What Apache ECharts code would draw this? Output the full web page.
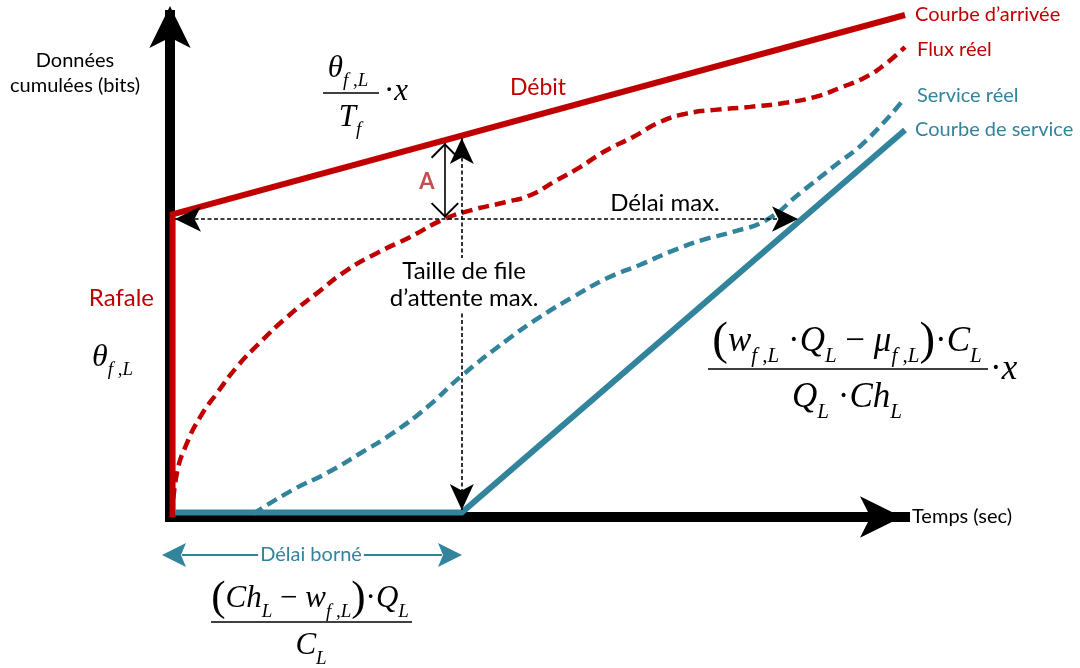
<!DOCTYPE html>
<html><head><meta charset="utf-8">
<script src="https://cdn.jsdelivr.net/npm/echarts@6/dist/echarts.min.js"></script>
<style>html,body{margin:0;padding:0;background:#fff}#c{width:1080px;height:668px}</style>
</head><body><div id="c"></div>
<script>
// ---- data (time units on x, cumulated bits on y) ----
const xRange = [0, 100];
const yRange = [0, 100];
const arrivalCurve = [[0.35, 0], [0.35, 60.3], [100, 100]];
const realFlow = [[0.3,0.2],[0.95,8.8],[2.3,14.7],[4.1,19.9],[6.4,24.7],[9.1,29.9],[12.2,34.7],[15.9,39.8],[20.0,44.6],[24.1,49.2],[28.2,52.6],[32.7,55.8],[37.1,59.2],[41.2,61.2],[45.6,62.7],[49.0,64.1],[52.4,66.9],[55.8,69.7],[59.2,72.9],[63.0,75.7],[66.7,78.7],[70.1,80.3],[74.1,81.1],[78.9,81.7],[83.7,82.5],[87.8,83.7],[91.2,85.5],[94.6,87.6],[97.3,90.2],[100,93.6]];
const realService = [[11.3,0.6],[16.7,5.4],[21.4,8.8],[25.9,12.7],[30.3,16.7],[35.0,21.9],[39.5,27.9],[45.9,35.3],[50.3,39.8],[54.8,43.8],[59.5,47.6],[63.9,50.2],[68.0,52.8],[72.5,55.2],[76.6,56.8],[81.2,59.2],[85.7,64.5],[90.2,69.7],[94.8,75.1],[100,83.5]];
const serviceCurve = [[0.7, 0.9], [39.7, 0.9], [100, 77.1]];
const maxDelayLine = [[0.68, 59.36], [85.44, 59.36]];
const maxQueueLine = [[39.7, 75.5], [39.7, 1.4]];
const gapALine = [[37.4, 74.5], [37.4, 59.6]];
const curveNames = ["Courbe d’arrivée", "Flux réel", "Service réel", "Courbe de service"];

const RED = '#C00000', TEAL = '#31849B';
const M = "'Liberation Serif','Times New Roman',serif";
const S = "Lato,'Open Sans',sans-serif";

const chart = echarts.init(document.getElementById('c'), null, {renderer: 'canvas'});

function arrowPoint(sym, w, h, off) {
  return {symbol: sym, symbolSize: [w, h], symbolOffset: [0, off]};
}
const CHEVRON = 'path://M0,0 L14,14 L12.6,15.4 L0,2.8 L-12.6,15.4 L-14,14 Z';
function annot(name, pts, s0, s1, ls) {
  return {
    name, type: 'line', data: [], silent: true, z: 6,
    markLine: {
      silent: true, animation: false, label: {show: false}, emphasis: {disabled: true},
      lineStyle: ls,
      data: [[Object.assign({}, s0, {coord: pts[0]}), Object.assign({}, s1, {coord: pts[1]})]]
    }
  };
}

function mtext(x, y, text, rich, align) {
  return {type: 'text', x, y, z: 100, style: {text, align: align || 'center', verticalAlign: 'middle',
    textAlign: align || 'center', textVerticalAlign: 'middle', fill: '#000', rich}};
}
function stext(x, y, text, size, color, align, extra) {
  return {type: 'text', x, y, z: 100, style: Object.assign({text, fontFamily: S, fontSize: size, fill: color,
    align: align, verticalAlign: 'middle', textAlign: align, textVerticalAlign: 'middle'}, extra || {})};
}
function bar(x1, x2, y) {
  return {type: 'line', z: 100, shape: {x1, y1: y, x2, y2: y}, style: {stroke: '#000', lineWidth: 1.3}};
}
function richSet(main, sub, paren, shift) {
  return {
    v: {fontFamily: M, fontStyle: 'italic', fontSize: main, fill: '#000'},
    s: {fontFamily: M, fontStyle: 'italic', fontSize: sub, fill: '#000', padding: [shift, 0, 0, 0]},
    o: {fontFamily: M, fontSize: main, fill: '#000'},
    p: {fontFamily: M, fontSize: paren, fill: '#000'}
  };
}
const rTop = richSet(31, 19, 42, 24);
const rLeft = richSet(32, 19, 44, 24);
const rRight = richSet(35, 21, 47, 28);
const rBot = richSet(31, 19, 43, 25);

const graphics = [
  stext(75, 61, 'Données', 20, '#000', 'center'),
  stext(75, 86, 'cumulées (bits)', 20, '#000', 'center'),
  stext(154, 298, 'Rafale', 24, RED, 'right'),
  mtext(92, 358, '{v|θ}{s|f ,L}', rLeft, 'left'),
  // top fraction
  mtext(348, 69, '{v|θ}{s|f ,L}', rTop),
  bar(323, 379, 93),
  mtext(350, 118, '{v|T}{s|f}', rTop),
  mtext(384, 92, '{o|·}{v|x}', rTop, 'left'),
  stext(538, 88, 'Débit', 23, RED, 'center'),
  stext(915, 15, curveNames[0], 20, RED, 'left'),
  stext(917, 50, curveNames[1], 20, RED, 'left'),
  stext(917, 96, curveNames[2], 20, TEAL, 'left'),
  stext(915, 130, curveNames[3], 20, TEAL, 'left'),
  stext(427, 182, 'A', 22, '#C0504D', 'center', {fontWeight: 'bold'}),
  stext(665, 203, 'Délai max.', 24, '#000', 'center'),
  stext(464, 285, 'Taille de file\nd’attente max.', 24, '#000', 'center', {lineHeight: 27, backgroundColor: '#fff', padding: [0, 1, 0, 1]}),
  stext(912, 517, 'Temps (sec)', 20, '#000', 'left'),
  // right fraction
  mtext(847, 342, '{p|(}{v|w}{s|f ,L}{o| ·}{v|Q}{s|L}{o| − }{v|μ}{s|f ,L}{p|)}{o|·}{v|C}{s|L}', rRight),
  bar(708, 988, 369),
  mtext(847, 398, '{v|Q}{s|L}{o| ·}{v|Ch}{s|L}', rRight),
  mtext(990, 370, '{o|·}{v|x}', rRight, 'left'),
  // bottom bounded delay arrow
  {type: 'line', z: 100, shape: {x1: 182, y1: 555, x2: 442, y2: 555}, style: {stroke: TEAL, lineWidth: 2}},
  {type: 'polygon', z: 100, shape: {points: [[162,555],[186,543],[181,555],[186,567]]}, style: {fill: TEAL}},
  {type: 'polygon', z: 100, shape: {points: [[462,555],[438,543],[443,555],[438,567]]}, style: {fill: TEAL}},
  stext(311, 555, 'Délai borné', 20, TEAL, 'center', {backgroundColor: '#fff', padding: [0, 2, 0, 2]}),
  // bottom fraction
  mtext(310, 599, '{p|(}{v|Ch}{s|L}{o| − }{v|w}{s|f ,L}{p|)}{o|·}{v|Q}{s|L}', rBot),
  bar(211, 412, 622),
  mtext(311, 646, '{v|C}{s|L}', rBot)
];

const axisCommon = {type: 'value', splitLine: {show: false}, axisTick: {show: false}, axisLabel: {show: false}};
const option = {
  animation: false,
  backgroundColor: '#fff',
  grid: {left: 170, top: 15, width: 735, height: 502, containLabel: false, outerBoundsMode: 'none'},
  xAxis: Object.assign({}, axisCommon, {min: xRange[0], max: xRange[1],
    axisLine: {show: true, onZero: false, symbol: ['none', 'arrow'], symbolSize: [31, 42], symbolOffset: [0, -3],
      lineStyle: {color: '#000', width: 10, cap: 'square'}}}),
  yAxis: Object.assign({}, axisCommon, {min: yRange[0], max: yRange[1],
    axisLine: {show: true, onZero: false, symbol: ['none', 'arrow'], symbolSize: [31, 42], symbolOffset: [0, 9],
      lineStyle: {color: '#000', width: 10, cap: 'square'}}}),
  series: [
    {name: curveNames[1], type: 'line', data: realFlow, smooth: 0.5, showSymbol: false, symbol: 'none', clip: false, z: 3,
      lineStyle: {color: RED, width: 4.5, type: [11, 6]}},
    {name: curveNames[2], type: 'line', data: realService, smooth: 0.5, showSymbol: false, symbol: 'none', clip: false, z: 3,
      lineStyle: {color: TEAL, width: 4.5, type: [11, 6]}},
    {name: curveNames[0], type: 'line', data: arrivalCurve, showSymbol: false, symbol: 'none', clip: false, z: 4,
      lineStyle: {color: RED, width: 6, join: 'miter'}},
    {name: curveNames[3], type: 'line', data: serviceCurve, showSymbol: false, symbol: 'none', clip: false, z: 4,
      lineStyle: {color: TEAL, width: 6, join: 'miter'}},
    annot('maxDelay', maxDelayLine, arrowPoint('arrow', 19, 26, 0), arrowPoint('arrow', 19, 26, 0),
      {color: '#000', width: 1.6, type: [4, 2.5]}),
    annot('maxQueue', maxQueueLine, arrowPoint('arrow', 18, 26, 0), arrowPoint('arrow', 18, 26, 0),
      {color: '#000', width: 1.6, type: [4, 2.5]}),
    annot('gapA', gapALine, arrowPoint(CHEVRON, 28, 15.4, 7.7), arrowPoint(CHEVRON, 28, 15.4, 7.7),
      {color: '#000', width: 1.6, type: 'solid'})
  ],
  graphic: {elements: graphics}
};
chart.setOption(option);
</script></body></html>
